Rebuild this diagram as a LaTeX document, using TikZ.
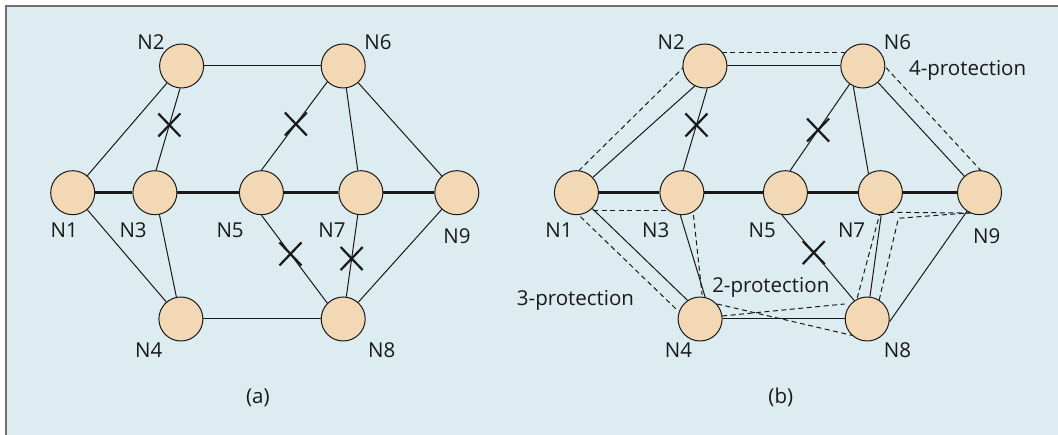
\documentclass[tikz,border=0pt]{standalone}
\usepackage{fontspec}
\setmainfont{Open Sans}
\usetikzlibrary{calc}
\pgfdeclarelayer{bg}
\pgfdeclarelayer{edges}
\pgfsetlayers{bg,edges,main}
\definecolor{panelbg}{RGB}{221,236,240}
\definecolor{nodefill}{RGB}{242,216,180}
\definecolor{framegray}{RGB}{112,112,112}
\definecolor{ink}{RGB}{25,25,25}
\newcommand\drawxmark[1]{\draw[xmark] ($(#1)+(-11,-11.5)$) -- ($(#1)+(11,11.5)$) ($(#1)+(-11,11.5)$) -- ($(#1)+(11,-11.5)$);}
\begin{document}
\begin{tikzpicture}[x=1pt,y=1pt,
  nd/.style={circle, draw=ink, line width=1pt, fill=nodefill, minimum size=44pt, inner sep=0pt},
  lbl/.style={font=\fontsize{20.5}{24}\selectfont, text=ink, anchor=base, inner sep=0pt},
  link/.style={draw=ink, line width=1pt},
  trunk/.style={draw=ink, line width=2.7pt},
  prot/.style={draw=ink, line width=1pt, dash pattern=on 5pt off 3.5pt},
  xmark/.style={draw=ink, line width=2.2pt}]
\useasboundingbox (0,0) rectangle (1058,435);
\begin{pgfonlayer}{bg}
  \fill[panelbg] (5,0) rectangle (1058,430);
  \draw[framegray, line width=1.8pt] (5.9,0) -- (5.9,429.2) -- (1058,429.2);
\end{pgfonlayer}

% ---------- panel (a) ----------
\node[nd] (a1) at (72.7,242.3) {};
\node[nd] (a2) at (181.6,369) {};
\node[nd] (a3) at (154.9,242.3) {};
\node[nd] (a4) at (180.9,116) {};
\node[nd] (a5) at (261.4,242.3) {};
\node[nd] (a6) at (343.2,369) {};
\node[nd] (a7) at (360.9,242.3) {};
\node[nd] (a8) at (343.2,116) {};
\node[nd] (a9) at (456.8,242.3) {};

\node[lbl] (la1) at (64.2,197.7) {N1};
\node[lbl] (la2) at (151.0,385.7) {N2};
\node[lbl] (la3) at (133.1,197.7) {N3};
\node[lbl] (la4) at (148.8,77.7) {N4};
\node[lbl] (la5) at (230.1,197.7) {N5};
\node[lbl] (la6) at (377.9,385.7) {N6};
\node[lbl] (la7) at (332.0,197.7) {N7};
\node[lbl] (la8) at (381.8,77.7) {N8};
\node[lbl] (la9) at (456.9,191) {N9};
\node[lbl] (capa) at (257.8,31) {(a)};

\begin{pgfonlayer}{edges}
  \draw[link] (a1) -- (a2);
  \draw[link] (a2) -- (a6);
  \draw[link] (a2.266) -- coordinate[pos=0.447] (xa1) (a3.87);
  \draw[link] (a6.225) -- coordinate[pos=0.477] (xa2) (a5.90);
  \draw[link] (a6) -- (a7);
  \draw[link] (a6) -- (a9);
  \draw[link] (a1) -- (a4);
  \draw[link] (a3) -- (a4);
  \draw[link] (a4) -- (a8);
  \draw[link] (a5.270) -- coordinate[pos=0.441] (xa3) (a8.135);
  \draw[link] (a7) -- coordinate[pos=0.533] (xa4) (a8);
  \draw[link] (a8) -- (a9);
  \draw[trunk] (a1) -- (a3);
  \draw[trunk] (a3) -- (a5);
  \draw[trunk] (a5) -- (a7);
  \draw[trunk] (a7) -- (a9);
\end{pgfonlayer}
\drawxmark{xa1}
\drawxmark{xa2}
\drawxmark{xa3}
\drawxmark{xa4}

% ---------- panel (b) ----------
\node[nd] (b1) at (576.4,242.3) {};
\node[nd] (b2) at (704.9,369) {};
\node[nd] (b3) at (681.9,242.3) {};
\node[nd] (b4) at (700.1,116) {};
\node[nd] (b5) at (785.4,242.3) {};
\node[nd] (b6) at (862.8,369) {};
\node[nd] (b7) at (880.4,242.3) {};
\node[nd] (b8) at (867.2,116) {};
\node[nd] (b9) at (979.5,242.3) {};

\node[lbl] (lb1) at (559.0,197.7) {N1};
\node[lbl] (lb2) at (671.2,385.7) {N2};
\node[lbl] (lb3) at (655.8,197.7) {N3};
\node[lbl] (lb4) at (678.5,77.7) {N4};
\node[lbl] (lb5) at (762.2,197.7) {N5};
\node[lbl] (lb6) at (897.4,385.7) {N6};
\node[lbl] (lb7) at (851.6,197.7) {N7};
\node[lbl] (lb8) at (897.4,77.7) {N8};
\node[lbl] (lb9) at (986.7,191) {N9};
\node[lbl] (capb) at (780.8,31) {(b)};
\node[lbl] (p4) at (967.6,359) {4-protection};
\node[lbl] (p2) at (770.8,142.7) {2-protection};
\node[lbl] (p3) at (575.5,129) {3-protection};

\coordinate (c1) at ($(b7)+(18,-25.6)$);

\begin{pgfonlayer}{edges}
  \draw[link] (b1.43) -- (b2.243);
  \draw[link] (b2) -- (b6);
  \draw[link] (b2.276) -- coordinate[pos=0.447] (xb1) (b3.87);
  \draw[link] (b6.234) -- coordinate[pos=0.53] (xb2) (b5.78);
  \draw[link] (b6.245) -- (b7.122);
  \draw[link] (b6) -- (b9);
  \draw[link] (b1.315) -- (b4.124);
  \draw[link] (b3.266) -- (b4.77);
  \draw[link] (b4) -- (b8);
  \draw[link] (b5.261) -- coordinate[pos=0.44] (xb3) (b8.125);
  \draw[link] (b7.272) -- (b8.83);
  \draw[link] (b8.353) -- (b9.236);
  \draw[trunk] (b1) -- (b3);
  \draw[trunk] (b3) -- (b5);
  \draw[trunk] (b5) -- (b7);
  \draw[trunk] (b7) -- (b9);
  % protection paths
  \draw[prot] ($(b1)!14pt!90:(b2)$) -- ($(b2)!14pt!-90:(b1)$);
  \draw[prot] ($(b2)+(0,13)$) -- ($(b6)+(0,13)$);
  \draw[prot] ($(b6)!16pt!90:(b9)$) -- ($(b9)!16pt!-90:(b6)$);
  \draw[prot] ($(b1)+(0,-18)$) -- ($(b3)+(0,-18)$);
  \draw[prot] ($(b3)+(11.6,-22.3)$) -- ($(b4)+(2,24)$);
  \draw[prot] ($(b1)+(4,-24)$) -- ($(b4)+(-23,9)$);
  \draw[prot] ($(b4)+(17,15)$) -- ($(b8)+(-9.3,-17.7)$);
  \draw[prot] ($(b4)+(22,3)$) -- ($(b8)+(-22.6,15)$);
  \draw[prot] ($(b8)+(-10,21)$) -- ($(b7)+(-1,-22.5)$);
  \draw[prot] ($(b8)+(12,19)$) -- (c1) -- ($(b9)+(-8,-20)$);
  \draw[prot] ($(b7)+(0,-19.5)$) -- ($(b9)+(0,-20.5)$);
\end{pgfonlayer}
\drawxmark{xb1}
\drawxmark{xb2}
\drawxmark{xb3}
\end{tikzpicture}
\end{document}
